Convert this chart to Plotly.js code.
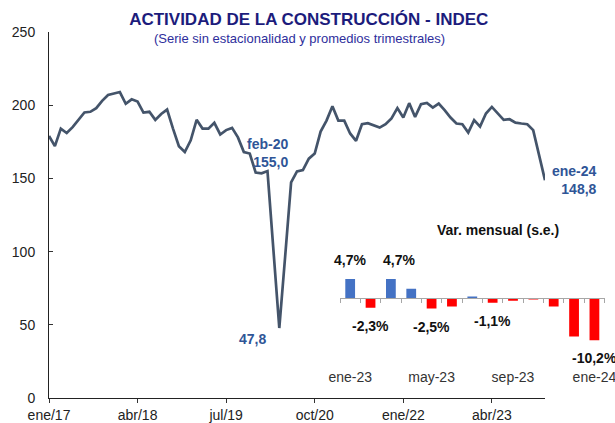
<!DOCTYPE html>
<html>
<head>
<meta charset="utf-8">
<script src="https://cdn.plot.ly/plotly-3.0.1.min.js"></script>
<style>html,body{margin:0;padding:0;background:#fff;}#chart{width:615px;height:423px;}</style>
</head>
<body>
<div id="chart"></div>
<script>
// ---- data: monthly index (s.e.), ene-2017 .. ene-2024 ----
var monthNames = ['ene','feb','mar','abr','may','jun','jul','ago','sep','oct','nov','dic'];
var years = ['17','18','19','20','21','22','23','24'];
var months = [];
years.forEach(function (y) { monthNames.forEach(function (m) { months.push(m + '/' + y); }); });
months = months.slice(0, 85);

var indexValues = [
  179, 172, 184, 181, 185, 190, 195, 195.5, 198, 203, 207, 208,
  209, 201, 204, 202.5, 195, 195.5, 190, 194, 197, 184, 172, 168,
  176, 190, 184, 184, 188, 180, 183, 184.5, 178, 168, 167, 154,
  153.5, 155.0, 100, 47.8, 97, 147.3, 154.8, 155.7, 163.5, 167, 182, 189.5,
  199.3, 189.5, 189.5, 180.7, 175.7, 187, 187.7, 186, 184.7, 187, 191, 198,
  191.6, 201.4, 192, 200.7, 201.6, 198.4, 201.1, 196.6, 191.6, 187.5, 187, 181.3,
  189.8, 185.4, 194.3, 198.8, 194.3, 190, 190.4, 188.1, 187.5, 187, 183, 165.7,
  148.8
];
var xTickLabels = ['ene/17', 'abr/18', 'jul/19', 'oct/20', 'ene/22', 'abr/23'];

// ---- inset: monthly variation (%) ----
var barMonths = ['ene-23','feb-23','mar-23','abr-23','may-23','jun-23','jul-23','ago-23','sep-23','oct-23','nov-23','dic-23','ene-24'];
var barValues = [4.7, -2.3, 4.7, 2.3, -2.5, -2.0, 0.4, -1.1, -0.6, -0.3, -2.0, -9.3, -10.2];
var barTickMonths = ['ene-23', 'may-23', 'sep-23', 'ene-24'];
var labeledBars = ['ene-23', 'feb-23', 'mar-23', 'may-23', 'ago-23', 'ene-24'];

// ---- highlighted points ----
var noteFeb = 'feb/20', noteMin = 'abr/20', noteLast = 'ene/24';

var FONT = 'Liberation Sans, Arial, sans-serif';
var barIdx = barMonths.map(function (_, i) { return i; });

var traces = [
  {
    type: 'scatter', mode: 'lines', x: months, y: indexValues,
    xaxis: 'x', yaxis: 'y',
    line: { color: '#44546A', width: 2.7 }, hoverinfo: 'skip'
  },
  {
    type: 'bar', x: barIdx, y: barValues, xaxis: 'x2', yaxis: 'y2',
    width: 0.48,
    marker: {
      color: barValues.map(function (v) { return v >= 0 ? '#4472C4' : '#FF0000'; }),
      line: { width: 0 }
    },
    hoverinfo: 'skip'
  }
];

var y2Range = [-12, 6];
var y2Domain = [0.1377, 0.3399];
var basePos = y2Domain[0] + (0 - y2Range[0]) / (y2Range[1] - y2Range[0]) * (y2Domain[1] - y2Domain[0]);

function fmt(v) { return v.toFixed(1).replace('.', ',') + '%'; }

var annotations = [
  {
    xref: 'paper', yref: 'paper', x: 0.4474, y: 0.9836, xanchor: 'center', yanchor: 'middle',
    text: '(Serie sin estacionalidad y promedios trimestrales)', showarrow: false,
    font: { family: FONT, size: 13, color: '#2E2E9C' }
  },
  {
    xref: 'x', yref: 'y', x: noteFeb, y: indexValues[months.indexOf(noteFeb)],
    text: 'feb-20<br>' + indexValues[months.indexOf(noteFeb)].toFixed(1).replace('.', ','),
    showarrow: false, xanchor: 'right', yanchor: 'middle', align: 'right',
    xshift: 23, yshift: 18,
    font: { family: FONT, size: 14, color: '#2F5597', weight: 'bold' }
  },
  {
    xref: 'x', yref: 'y', x: noteMin, y: indexValues[months.indexOf(noteMin)],
    text: indexValues[months.indexOf(noteMin)].toFixed(1).replace('.', ','),
    showarrow: false, xanchor: 'right', yanchor: 'middle',
    xshift: -11, yshift: -11,
    font: { family: FONT, size: 14, color: '#2F5597', weight: 'bold' }
  },
  {
    xref: 'x', yref: 'y', x: noteLast, y: indexValues[months.indexOf(noteLast)],
    text: 'ene-24<br>' + indexValues[months.indexOf(noteLast)].toFixed(1).replace('.', ','),
    showarrow: false, xanchor: 'right', yanchor: 'middle', align: 'right',
    xshift: 54, yshift: 0,
    font: { family: FONT, size: 14, color: '#2F5597', weight: 'bold' }
  },
  {
    xref: 'paper', yref: 'paper', x: 0.8004, y: 0.4577, xanchor: 'center', yanchor: 'middle',
    text: 'Var. mensual (s.e.)', showarrow: false,
    font: { family: FONT, size: 14, color: '#111', weight: 'bold' }
  }
];

labeledBars.forEach(function (m) {
  var i = barMonths.indexOf(m), v = barValues[i];
  annotations.push({
    xref: 'x2', yref: 'y2', x: i, y: v, text: fmt(v), showarrow: false,
    xanchor: 'center', yanchor: v >= 0 ? 'bottom' : 'top',
    xshift: m === 'mar-23' ? 8 : 0,
    yshift: v >= 0 ? 9 : -8,
    font: { family: FONT, size: 14, color: '#111', weight: 'bold' }
  });
});

var layout = {
  width: 615, height: 423,
  margin: { l: 49, r: 5, t: 32, b: 25, pad: 0 },
  paper_bgcolor: '#fff', plot_bgcolor: 'rgba(0,0,0,0)',
  showlegend: false,
  font: { family: FONT, size: 14, color: '#222' },
  title: {
    text: 'ACTIVIDAD DE LA CONSTRUCCIÓN - INDEC',
    font: { family: FONT, size: 17, color: '#1C1C7C', weight: 'bold' },
    xref: 'container', x: 0.502, yref: 'container', y: 1 - 19.5 / 423, yanchor: 'middle', xanchor: 'center'
  },
  xaxis: {
    domain: [0, 496 / 561], type: 'category', range: [0, 84],
    tickmode: 'array', tickvals: xTickLabels, ticktext: xTickLabels,
    ticks: 'outside', ticklen: 4, tickcolor: '#333',
    showline: true, linecolor: '#222', linewidth: 1,
    showgrid: false, zeroline: false,
    tickfont: { family: FONT, size: 14, color: '#222' }
  },
  yaxis: {
    range: [0, 250], dtick: 50, tick0: 0,
    ticks: 'inside', ticklen: 4, tickcolor: '#333',
    showline: true, linecolor: '#222', linewidth: 1,
    showgrid: false, zeroline: false, ticklabelstandoff: 10,
    tickfont: { family: FONT, size: 14, color: '#222' }
  },
  xaxis2: {
    domain: [(340 - 49) / 561, (604.6 - 49) / 561],
    range: [-0.5, barMonths.length - 0.5],
    anchor: 'free', position: basePos,
    tickmode: 'array',
    tickvals: barTickMonths.map(function (m) { return barMonths.indexOf(m); }),
    ticktext: barTickMonths,
    ticklabeloverflow: 'allow',
    ticks: '', showline: true, linecolor: '#A6A6A6', linewidth: 1,
    minor: { tickmode: 'linear', tick0: 0.5, dtick: 1, ticks: 'outside', ticklen: 4, tickcolor: '#A6A6A6', showgrid: false },
    ticklabelstandoff: 66,
    showgrid: false, zeroline: false,
    tickfont: { family: FONT, size: 14, color: '#333' }
  },
  yaxis2: {
    domain: y2Domain, range: y2Range, anchor: 'x2',
    visible: false, showgrid: false, zeroline: false
  },
  bargap: 0.52,
  annotations: annotations
};

Plotly.newPlot('chart', traces, layout, { staticPlot: true, displayModeBar: false });
</script>
</body>
</html>
